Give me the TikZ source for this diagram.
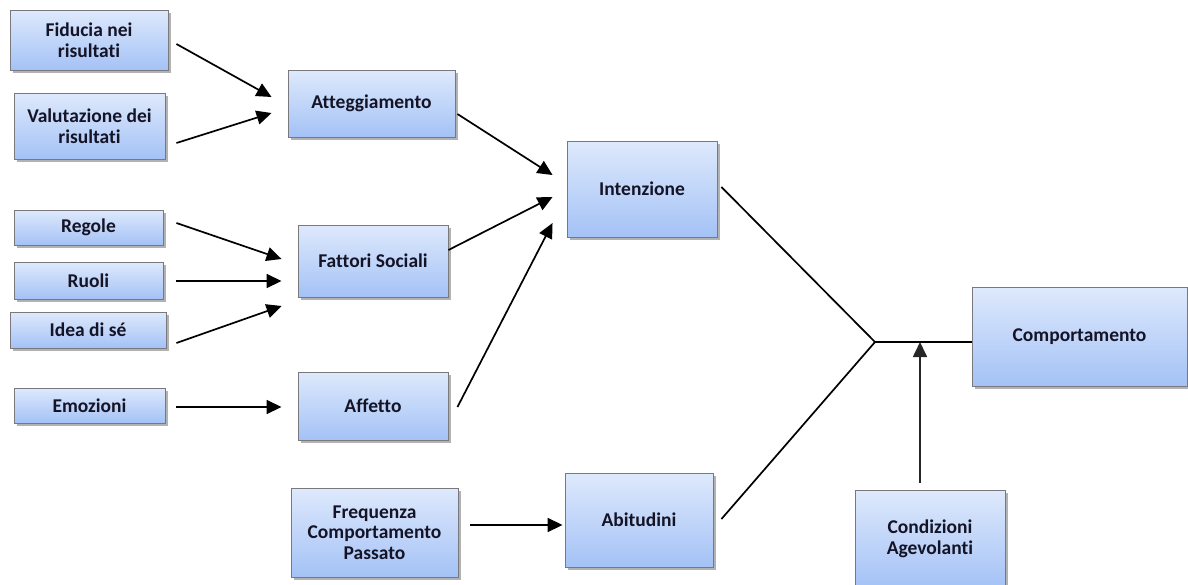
\documentclass[tikz,border=0pt]{standalone}
\usepackage{fontspec}
\setmainfont{Carlito}[RawFeature={-liga;-clig;-dlig}]
\usetikzlibrary{arrows.meta,shadows,calc}
\definecolor{boxtop}{RGB}{222,233,252}
\definecolor{boxbot}{RGB}{164,194,246}
\definecolor{boxline}{RGB}{120,120,125}
\definecolor{txt}{RGB}{20,20,38}
\tikzset{
  box/.style={draw=boxline, line width=0.9pt, top color=boxtop, bottom color=boxbot,
    drop shadow={shadow xshift=2.5pt, shadow yshift=-3pt, opacity=0.3, fill=black},
    align=center, text=txt, font=\fontsize{19.5}{20.5}\selectfont\bfseries, inner sep=2pt},
  arr/.style={line width=1.7pt, -{Triangle[length=15pt,width=14pt]}},
  ln/.style={line width=1.7pt}
}
\begin{document}
\begin{tikzpicture}[x=1pt,y=-1pt]
\useasboundingbox (0,0) rectangle (1188,584);
\fill[white] (0,0) rectangle (1188,584);
% nodes
\node[box, minimum width=158, minimum height=60] (fid) at (89,40) {Fiducia nei\\risultati};
\node[box, minimum width=151, minimum height=66] (val) at (89.5,126) {Valutazione dei\\risultati};
\node[box, minimum width=167, minimum height=67] (att) at (371.5,103.5) {Atteggiamento};
\node[box, minimum width=149, minimum height=35] (reg) at (88.5,227.5) {Regole};
\node[box, minimum width=149, minimum height=37] (ruo) at (88.5,280.5) {Ruoli};
\node[box, minimum width=156, minimum height=36] (ide) at (88,330) {Idea di sé};
\node[box, minimum width=151, minimum height=35] (emo) at (89.5,405.5) {Emozioni};
\node[box, minimum width=150, minimum height=72] (fat) at (373,261) {Fattori Sociali};
\node[box, minimum width=150, minimum height=68] (aff) at (373,406) {Affetto};
\node[box, minimum width=150, minimum height=96] (int) at (642,189) {Intenzione};
\node[box, minimum width=215, minimum height=99] (com) at (1079.5,336.5) {Comportamento};
\node[box, minimum width=167, minimum height=89] (fre) at (374.5,532.5) {Frequenza\\Comportamento\\Passato};
\node[box, minimum width=148, minimum height=94] (abi) at (639,520) {Abitudini};
\node[box, minimum width=150, minimum height=98] (con) at (930,539) {Condizioni\\Agevolanti};
\coordinate (j) at (875,342);
% connectors
\draw[arr] ($(fid.east)+(8,4)$) -- ($(att.west)+(-16,-6.5)$);
\draw[arr] ($(val.east)+(11,17)$) -- ($(att.west)+(-16,9.5)$);
\draw[arr] ($(att.east)+(2,10.5)$) -- ($(int.west)+(-14,-14)$);
\draw[arr] ($(fat.east)+(0,-11)$) -- ($(int.west)+(-14,8)$);
\draw[arr] ($(aff.east)+(9,1)$) -- ($(int.west)+(-14,34)$);
\draw[arr] ($(reg.east)+(13,-4.5)$) -- ($(fat.west)+(-16,-2)$);
\draw[arr] ($(ruo.east)+(13,0.5)$) -- ($(fat.west)+(-16,20)$);
\draw[arr] ($(ide.east)+(10,13)$) -- ($(fat.west)+(-16,45)$);
\draw[arr] ($(emo.east)+(11,1.5)$) -- ($(aff.west)+(-16,1)$);
\draw[arr] ($(fre.east)+(12,-7.5)$) -- ($(abi.west)+(-2,5)$);
\draw[ln] ($(int.east)+(4,-2)$) -- (j);
\draw[ln] ($(abi.east)+(8,-1)$) -- (j);
\draw[ln] (j) -- (j -| com.west);
\draw[arr, draw=black!85, fill=black] ($(con.north)+(-10,-7)$) -- ($(j)+(45,0)$);
\end{tikzpicture}
\end{document}
